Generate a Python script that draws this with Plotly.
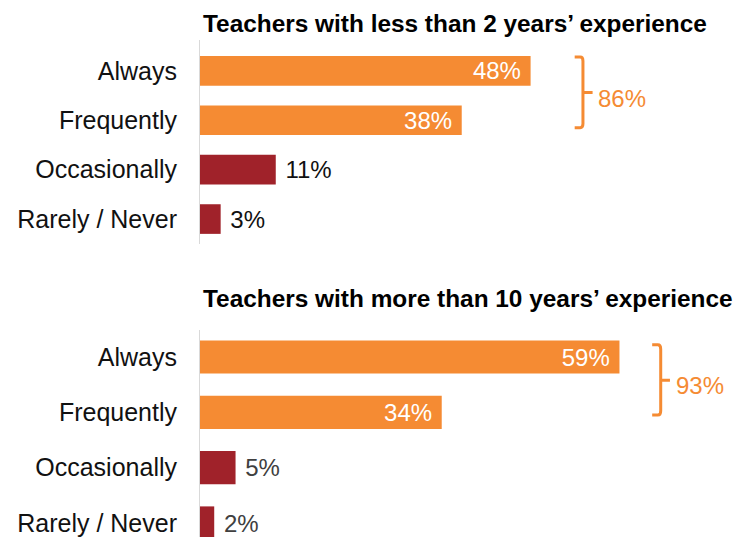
import plotly.graph_objects as go

categories = ["Always", "Frequently", "Occasionally", "Rarely / Never"]
novice_values = [48, 38, 11, 3]
veteran_values = [59, 34, 5, 2]
panel_titles = ["Teachers with less than 2 years\u2019 experience",
                "Teachers with more than 10 years\u2019 experience"]

ORANGE = "#F58B33"
RED = "#A0222A"
FONT = "Arial, Liberation Sans, sans-serif"

# page body adds an 8px offset; map reference pixels to figure coordinates
OFF = 8
W, H = 751, 537

def fx(p):
    return (p - OFF) / W

def fy(p):
    return 1 - (p - OFF) / H

fig = go.Figure()

def colors(vals):
    return [ORANGE if i < 2 else RED for i in range(len(vals))]

def labels(vals):
    return [f"{v}%\u00a0" if i < 2 else f"\u00a0{v}%" for i, v in enumerate(vals)]

ypos = list(range(len(categories)))

for vals, xa, ya, outcol in [(novice_values, "x", "y", "#111111"),
                             (veteran_values, "x2", "y2", "#404040")]:
    fig.add_trace(go.Bar(
        x=vals, y=ypos, orientation="h", xaxis=xa, yaxis=ya,
        marker=dict(color=colors(vals), line=dict(width=0)),
        width=0.6,
        text=labels(vals),
        textposition=["inside", "inside", "outside", "outside"],
        insidetextanchor="end",
        constraintext="none",
        insidetextfont=dict(color="white", size=24, family=FONT),
        outsidetextfont=dict(color=outcol, size=24, family=FONT),
        cliponaxis=True,
        showlegend=False, hoverinfo="skip",
    ))

common_y = dict(tickmode="array", tickvals=ypos, ticktext=categories,
                showgrid=False, zeroline=False, showline=True,
                linecolor="#D9D9D9", linewidth=1, ticks="",
                ticklabelstandoff=17, automargin=False,
                tickfont=dict(size=25, family=FONT, color="#111111"))
common_x = dict(showgrid=False, zeroline=False, showline=False,
                showticklabels=False, ticks="", automargin=False)

fig.update_layout(
    width=W, height=H,
    margin=dict(l=0, r=0, t=0, b=0, autoexpand=False),
    paper_bgcolor="white", plot_bgcolor="white",
    bargap=0.4,
    xaxis=dict(domain=[fx(200), fx(751)], range=[0, 80], anchor="y", **common_x),
    yaxis=dict(domain=[fy(244), fy(40)], range=[3.505, -0.625],
               anchor="x", **common_y),
    xaxis2=dict(domain=[fx(200), fx(751)], range=[0, 77.5], anchor="y2", **common_x),
    yaxis2=dict(domain=[fy(537), fy(330)], range=[3.253, -0.488],
                anchor="x2", **common_y),
)

# brackets with totals
brackets = [
    dict(xref="x", yref="y", vx=55.6, lx=54.4, tx=57.0, y0=-0.28, y1=1.15,
         ym=0.44, labx=57.9, laby=0.55, total=novice_values[0] + novice_values[1]),
    dict(xref="x2", yref="y2", vx=64.8, lx=63.6, tx=66.1, y0=-0.22, y1=1.05,
         ym=0.42, labx=67.1, laby=0.52, total=veteran_values[0] + veteran_values[1]),
]
for b in brackets:
    r = 0.08
    path = (f"M {b['lx']},{b['y0']} L {b['vx']-0.4},{b['y0']} "
            f"Q {b['vx']},{b['y0']} {b['vx']},{b['y0']+r} "
            f"L {b['vx']},{b['y1']-r} "
            f"Q {b['vx']},{b['y1']} {b['vx']-0.4},{b['y1']} L {b['lx']},{b['y1']} "
            f"M {b['vx']},{b['ym']} L {b['tx']},{b['ym']}")
    fig.add_shape(type="path", path=path, xref=b["xref"], yref=b["yref"],
                  line=dict(color=ORANGE, width=3))
    fig.add_annotation(x=b["labx"], y=b["laby"], xref=b["xref"], yref=b["yref"],
                       text=f"{b['total']}%", showarrow=False, xanchor="left",
                       yanchor="middle", xshift=-3,
                       font=dict(size=24, family=FONT, color=ORANGE))

for title, ty in zip(panel_titles, [23, 298]):
    fig.add_annotation(x=fx(205), y=fy(ty), xref="paper", yref="paper",
                       text=f"<b>{title}</b>", showarrow=False,
                       xanchor="left", yanchor="middle", xshift=-4,
                       font=dict(size=24.4, family=FONT, color="#000000"))

fig.write_html("out.html")
